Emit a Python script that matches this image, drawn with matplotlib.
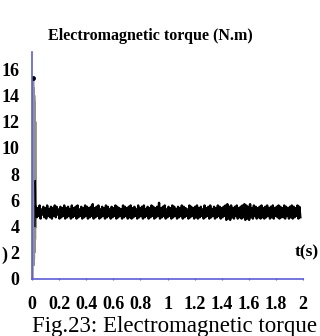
import numpy as np
import matplotlib.pyplot as plt

plt.rcParams['font.family'] = ['Liberation Serif', 'DejaVu Serif']

# start-up transient (first few ms)
t_start = [0.0, 0.004, 0.006, 0.008, 0.010, 0.012, 0.014, 0.016, 0.018, 0.020, 0.022]
torque_start = [0.0, 15.3, 1.0, 14.6, 1.5, 14.0, 2.0, 13.5, 3.0, 12.0, 4.0]
t_kick = [0.022, 0.024, 0.028]
torque_kick = [4.0, 7.5, 5.0]

# steady state ripple around ~5 N.m
noise = [
    5.5, 4.7, 5.4, 4.8, 5.6, 4.6, 5.3, 4.9, 5.5, 4.7, 5.4, 4.6, 5.6, 4.8, 5.3, 4.7, 5.5, 4.6, 5.4, 4.8,
    5.6, 4.7, 5.5, 4.9, 5.3, 4.6, 5.5, 4.7, 5.4, 4.8, 5.6, 4.6, 5.4, 4.7, 5.5, 4.8, 5.3, 4.6, 5.6, 4.7,
    5.4, 4.8, 5.5, 4.6, 5.6, 4.7, 5.3, 4.8, 5.5, 4.6, 5.4, 4.7, 5.6, 4.8, 5.5, 4.6, 5.4, 4.7, 5.5, 4.8,
    5.7, 4.6, 5.4, 4.7, 5.5, 4.8, 5.6, 4.6, 5.3, 4.7, 5.5, 4.8, 5.4, 4.6, 5.6, 4.7, 5.5, 4.8, 5.3, 4.6,
    5.5, 4.7, 5.4, 4.8, 5.6, 4.6, 5.5, 4.7, 5.4, 4.8, 5.3, 4.6, 5.6, 4.7, 5.5, 4.8, 5.4, 4.6, 5.5, 4.7,
    5.6, 4.6, 5.4, 4.7, 5.5, 4.8, 5.3, 4.6, 5.6, 4.7, 5.4, 4.8, 5.5, 4.6, 5.6, 4.7, 5.3, 4.8, 5.5, 4.6,
    5.4, 4.7, 5.6, 4.8, 5.5, 4.6, 5.4, 4.7, 5.5, 4.8, 5.8, 4.6, 5.4, 4.7, 5.5, 4.8, 5.6, 4.6, 5.3, 4.7,
    5.5, 4.8, 5.4, 4.6, 5.6, 4.7, 5.5, 4.8, 5.3, 4.6, 5.5, 4.7, 5.4, 4.8, 5.6, 4.6, 5.5, 4.7, 5.4, 4.8,
    5.3, 4.6, 5.6, 4.7, 5.5, 4.8, 5.4, 4.6, 5.5, 4.7, 5.6, 4.6, 5.4, 4.7, 5.5, 4.8, 5.3, 4.6, 5.6, 4.7,
    5.4, 4.8, 5.5, 4.6, 5.6, 4.7, 5.3, 4.8, 5.5, 4.6, 5.4, 4.7, 5.6, 4.8, 5.5, 4.6, 5.4, 4.7, 5.5, 4.8,
    5.6, 4.5, 5.7, 4.6, 5.5, 4.5, 5.6, 4.7, 5.4, 4.6, 5.5, 4.8, 5.6, 4.6, 5.4, 4.7, 5.5, 4.6, 5.6, 4.7,
    5.7, 4.5, 5.6, 4.6, 5.5, 4.5, 5.7, 4.7, 5.4, 4.6, 5.6, 4.8, 5.5, 4.6, 5.4, 4.7, 5.5, 4.6, 5.6, 4.7,
    5.4, 4.6, 5.5, 4.7, 5.6, 4.8, 5.4, 4.6, 5.5, 4.7, 5.6, 4.6, 5.4, 4.8, 5.5, 4.7, 5.6, 4.6, 5.5, 4.7,
    5.4, 4.7, 5.6, 4.6, 5.5, 4.8, 5.4, 4.6, 5.5, 4.7, 5.6, 4.6, 5.5, 4.7, 5.4, 4.8, 5.6, 4.6, 5.5, 4.7,
]
t_noise = np.linspace(0.028, 1.98, len(noise))

xticks = [0, 0.2, 0.4, 0.6, 0.8, 1, 1.2, 1.4, 1.6, 1.8, 2]
xlabels = ['0', '0.2', '0.4', '0.6', '0.8', '1', '1.2', '1.4', '1.6', '1.8', '2']
yticks = [0, 2, 4, 6, 8, 10, 12, 14, 16]

blue = '#5c5cd6'

fig = plt.figure(figsize=(3.2, 3.36), dpi=100)
ax = fig.add_axes([0.1, 0.17, 0.847, 0.675])

ax.plot(t_start, torque_start, color='#909090', lw=2.5, solid_joinstyle='miter')
ax.plot(t_kick, torque_kick, color='black', lw=1.0)
ax.plot(t_start[1], torque_start[1], 'o', color='black', ms=2.5)
ax.plot(t_noise, noise, color='black', lw=1.7)

ax.set_xlim(0, 2)
ax.set_ylim(0, 17.3)
ax.set_xticks(xticks)
ax.set_xticklabels(xlabels)
ax.set_yticks(yticks)

for s in ['top', 'right']:
    ax.spines[s].set_visible(False)
for s in ['left', 'bottom']:
    ax.spines[s].set_color(blue)
    ax.spines[s].set_linewidth(1.2)
    ax.spines[s].set_zorder(5)

ax.tick_params(axis='x', direction='inout', length=2, color=blue, pad=11, labelsize=13)
ax.tick_params(axis='y', length=0, pad=9, labelsize=13)
for lab in ax.get_xticklabels() + ax.get_yticklabels():
    lab.set_fontweight('bold')

ax.set_title('Electromagnetic torque (N.m)', fontsize=11.5, fontweight='bold', loc='left', x=0.06, pad=9)
ax.text(2.03, 2.0, 't(s)', fontsize=12.5, fontweight='bold', ha='center', va='center', clip_on=False)
fig.text(0.003, 0.24, ')', fontsize=13, fontweight='bold', va='center')
fig.text(0.1, 0.012, 'Fig.23: Electromagnetic torque', fontsize=16.5)

fig.savefig('out.png', dpi=100)
